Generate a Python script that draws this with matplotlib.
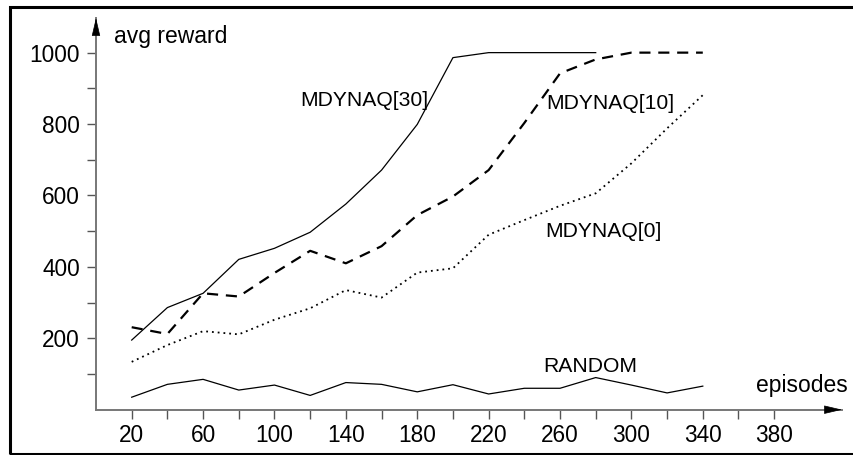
import matplotlib
matplotlib.use("Agg")
import matplotlib.pyplot as plt
from matplotlib.patches import Rectangle

# --- data ---
episodes = [20, 40, 60, 80, 100, 120, 140, 160, 180, 200, 220, 240, 260, 280, 300, 320, 340]
mdynaq30 = [195, 286, 326, 421, 452, 497, 576, 671, 799, 986, 1000, 1000, 1000, 1000]
mdynaq10 = [231, 212, 326, 317, 383, 445, 410, 458, 545, 597, 671, 803, 942, 981, 1000, 1000, 1000]
mdynaq0 = [134, 181, 220, 211, 252, 284, 335, 314, 384, 396, 490, 531, 571, 606, 690, 788, 881]
random_ = [35, 71, 85, 55, 69, 40, 76, 71, 50, 70, 44, 60, 60, 90, 69, 47, 66]

x_ticks = list(range(20, 400, 20))
x_labels = [str(v) if v % 40 == 20 else "" for v in x_ticks]
y_ticks = list(range(100, 1100, 100))
y_labels = [str(v) if v % 200 == 0 else "" for v in y_ticks]

plt.rcParams["font.family"] = ["Liberation Sans", "DejaVu Sans"]

W, H = 854, 455
fig = plt.figure(figsize=(W / 100, H / 100), dpi=100)
ax = fig.add_axes([96 / W, (H - 409.7) / H, (842 - 96) / W, (409.7 - 18) / H])

ax.plot(episodes[:len(mdynaq30)], mdynaq30, color="black", lw=0.9)
ax.plot(episodes, mdynaq10, color="black", lw=1.6, ls=(0, (5, 3.5)))
ax.plot(episodes, mdynaq0, color="black", lw=1.3, ls=(0, (1, 2.2)))
ax.plot(episodes, random_, color="black", lw=0.9)

ax.set_xlim(0, 418)
ax.set_ylim(0, 1097)
ax.set_xticks(x_ticks)
ax.set_xticklabels(x_labels, fontsize=16.3)
ax.set_yticks(y_ticks)
ax.set_yticklabels(y_labels, fontsize=16.3)
ax.tick_params(axis="both", color="#555555", width=1.0, length=6.5)
ax.tick_params(axis="x", pad=4)
ax.tick_params(axis="y", pad=5)

for side in ("top", "right"):
    ax.spines[side].set_visible(False)
for side in ("left", "bottom"):
    ax.spines[side].set_color("#777777")
    ax.spines[side].set_linewidth(1.4)

# arrow heads at the ends of the axes
head = dict(arrowstyle="-|>,head_length=1.15,head_width=0.27", color="black",
            lw=0.5, shrinkA=0, shrinkB=0, mutation_scale=10)
ax.annotate("", xy=(1, 0), xycoords="axes fraction",
            xytext=(-16, 0), textcoords="offset pixels", arrowprops=head,
            annotation_clip=False)
ax.annotate("", xy=(0, 1), xycoords="axes fraction",
            xytext=(0, -15), textcoords="offset pixels", arrowprops=head,
            annotation_clip=False)

# labels
ax.text(10, 1044, "avg reward", fontsize=16.5, va="center", ha="left")
ax.text(421, 69, "episodes", fontsize=16.5, va="center", ha="right", clip_on=False)
ax.text(150.3, 865, "MDYNAQ[30]", fontsize=15.2, va="center", ha="center")
ax.text(288.3, 858, "MDYNAQ[10]", fontsize=15.2, va="center", ha="center")
ax.text(284.5, 498, "MDYNAQ[0]", fontsize=15.2, va="center", ha="center")
ax.text(276.9, 121, "RANDOM", fontsize=15.2, va="center", ha="center")

# outer frame (open on the right side)
fig.patches.append(Rectangle((10.5 / W, (H - 453.5) / H), 1.2, (453.5 - 6.5) / H,
                             transform=fig.transFigure, fill=False,
                             edgecolor="black", lw=2.2))

fig.savefig("out.png", dpi=100)
